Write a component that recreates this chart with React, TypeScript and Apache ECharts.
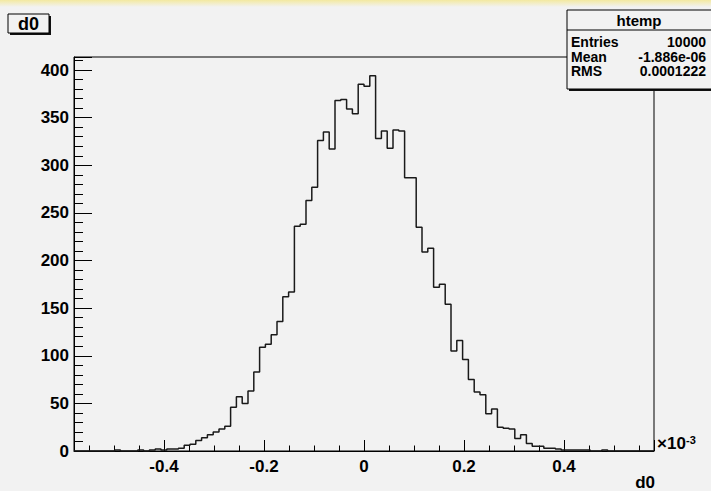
import React, { useEffect, useRef } from "react";
import * as echarts from "echarts";

// Histogram binning (units of 1e-3)
const X_MIN = -0.58;
const X_MAX = 0.58;
const BIN_WIDTH = 0.0116;

// Bin contents, 100 bins
const counts = [
  0, 0, 0, 0, 0, 0, 0, 1, 0, 0,
  0, 1, 0, 1, 2, 1, 2, 2, 3, 6,
  7, 11, 14, 17, 20, 23, 26, 46, 57, 50,
  63, 83, 109, 112, 122, 136, 162, 167, 236, 238,
  263, 277, 326, 335, 317, 368, 369, 359, 354, 385,
  383, 394, 328, 336, 318, 337, 336, 287, 287, 235,
  209, 213, 172, 175, 154, 105, 116, 96, 75, 62,
  59, 39, 44, 25, 24, 23, 13, 17, 8, 5,
  5, 3, 3, 2, 1, 1, 1, 1, 1, 0,
  0, 1, 0, 0, 0, 0, 0, 0, 0, 0,
];

const histName = "htemp";
const titleText = "d0";
const xTitle = "d0";
const statLabels = ["Entries", "Mean", "RMS"];
const statValues = ["10000", "-1.886e-06", "0.0001222"];

const FONT = '"Liberation Sans", Arial, Helvetica, sans-serif';
const BG = "#f2f2f2";

export default function App() {
  const ref = useRef<HTMLDivElement>(null);

  useEffect(() => {
    const el = ref.current;
    if (!el) return;
    const chart = echarts.init(el, null, { renderer: "svg" });

    const points: [number, number][] = counts.map((c, i) => [X_MIN + i * BIN_WIDTH, c]);
    points.push([X_MIN + counts.length * BIN_WIDTH, 0]);
    const yMax = Math.max(...counts) * 1.05;

    const txt = (
      text: string,
      x: number,
      y: number,
      size: number,
      align: string,
      valign: string,
      weight: string = "bold"
    ) => ({
      type: "text",
      x,
      y,
      z: 20,
      style: {
        text,
        fill: "#000",
        fontSize: size,
        fontWeight: weight,
        fontFamily: FONT,
        textAlign: align,
        textVerticalAlign: valign,
        align,
        verticalAlign: valign,
      },
    });

    const graphics: any[] = [
      {
        type: "rect",
        shape: { x: 0, y: 0, width: 711, height: 7 },
        z: 1,
        style: {
          fill: new echarts.graphic.LinearGradient(0, 0, 0, 1, [
            { offset: 0, color: "#f3e9a0" },
            { offset: 1, color: BG },
          ]),
        },
      },
      // title box
      { type: "rect", shape: { x: 10, y: 16, width: 41, height: 19 }, z: 10, style: { fill: "#111" } },
      { type: "rect", shape: { x: 8, y: 14, width: 41, height: 19 }, z: 11, style: { fill: BG, stroke: "#000", lineWidth: 1 } },
      txt(titleText, 28.5, 24, 18, "center", "middle"),
      // stat box
      { type: "rect", shape: { x: 569, y: 12, width: 150, height: 79 }, z: 10, style: { fill: "#111" } },
      { type: "rect", shape: { x: 567, y: 10, width: 150, height: 79 }, z: 11, style: { fill: BG, stroke: "#000", lineWidth: 1 } },
      { type: "line", shape: { x1: 567, y1: 30, x2: 711, y2: 30 }, z: 12, style: { stroke: "#000", lineWidth: 1 } },
      txt(histName, 639, 20.5, 15, "center", "middle"),
      ...statLabels.map((l, i) => txt(l, 571, 42 + i * 14.5, 14, "left", "middle")),
      ...statValues.map((v, i) => txt(v, 706, 42 + i * 14.5, 14, "right", "middle")),
      // exponent
      txt("\u00d710", 657, 452, 17, "left", "bottom"),
      txt("-3", 686, 445, 11, "left", "bottom"),
      // x title
      txt(xTitle, 655, 491, 17, "right", "bottom"),
    ];

    chart.setOption({
      animation: false,
      backgroundColor: BG,
      grid: {
        left: 74,
        right: 57,
        top: 57,
        bottom: 40,
        show: true,
        borderColor: "#000",
        borderWidth: 1,
        backgroundColor: "transparent",
      },
      xAxis: {
        type: "value",
        min: X_MIN,
        max: X_MAX,
        splitNumber: 5,
        axisLine: { show: true, onZero: false, lineStyle: { color: "#000", width: 1 } },
        axisTick: { show: true, inside: true, length: 11, lineStyle: { color: "#000" } },
        minorTick: { show: true, splitNumber: 4, length: 5.5, lineStyle: { color: "#000" } },
        splitLine: { show: false },
        axisLabel: {
          color: "#000",
          fontSize: 17,
          fontWeight: "bold",
          fontFamily: FONT,
          margin: 7,
          showMinLabel: false,
          showMaxLabel: false,
          formatter: (v: number) => {
            const r = Math.round(v * 10) / 10;
            return Math.abs(r - v) > 1e-6 ? "" : String(r);
          },
        },
      },
      yAxis: {
        type: "value",
        min: 0,
        max: yMax,
        interval: 50,
        axisLine: { show: true, onZero: false, lineStyle: { color: "#000", width: 1 } },
        axisTick: { show: true, inside: true, length: 18, lineStyle: { color: "#000" } },
        minorTick: { show: true, splitNumber: 5, length: 9, lineStyle: { color: "#000" } },
        splitLine: { show: false },
        axisLabel: {
          color: "#000",
          fontSize: 17,
          fontWeight: "bold",
          fontFamily: FONT,
          margin: 5,
          showMaxLabel: false,
          formatter: (v: number) => (v % 50 === 0 ? String(v) : ""),
        },
      },
      series: [
        {
          type: "line",
          data: points,
          step: "end",
          showSymbol: false,
          symbol: "none",
          clip: true,
          lineStyle: { color: "#1a1a1a", width: 1.5 },
          z: 5,
        },
      ],
      graphic: graphics,
    });

    return () => chart.dispose();
  }, []);

  return (
    <div
      ref={ref}
      style={{ position: "fixed", left: 0, top: 0, width: 711, height: 491, background: BG }}
    />
  );
}
